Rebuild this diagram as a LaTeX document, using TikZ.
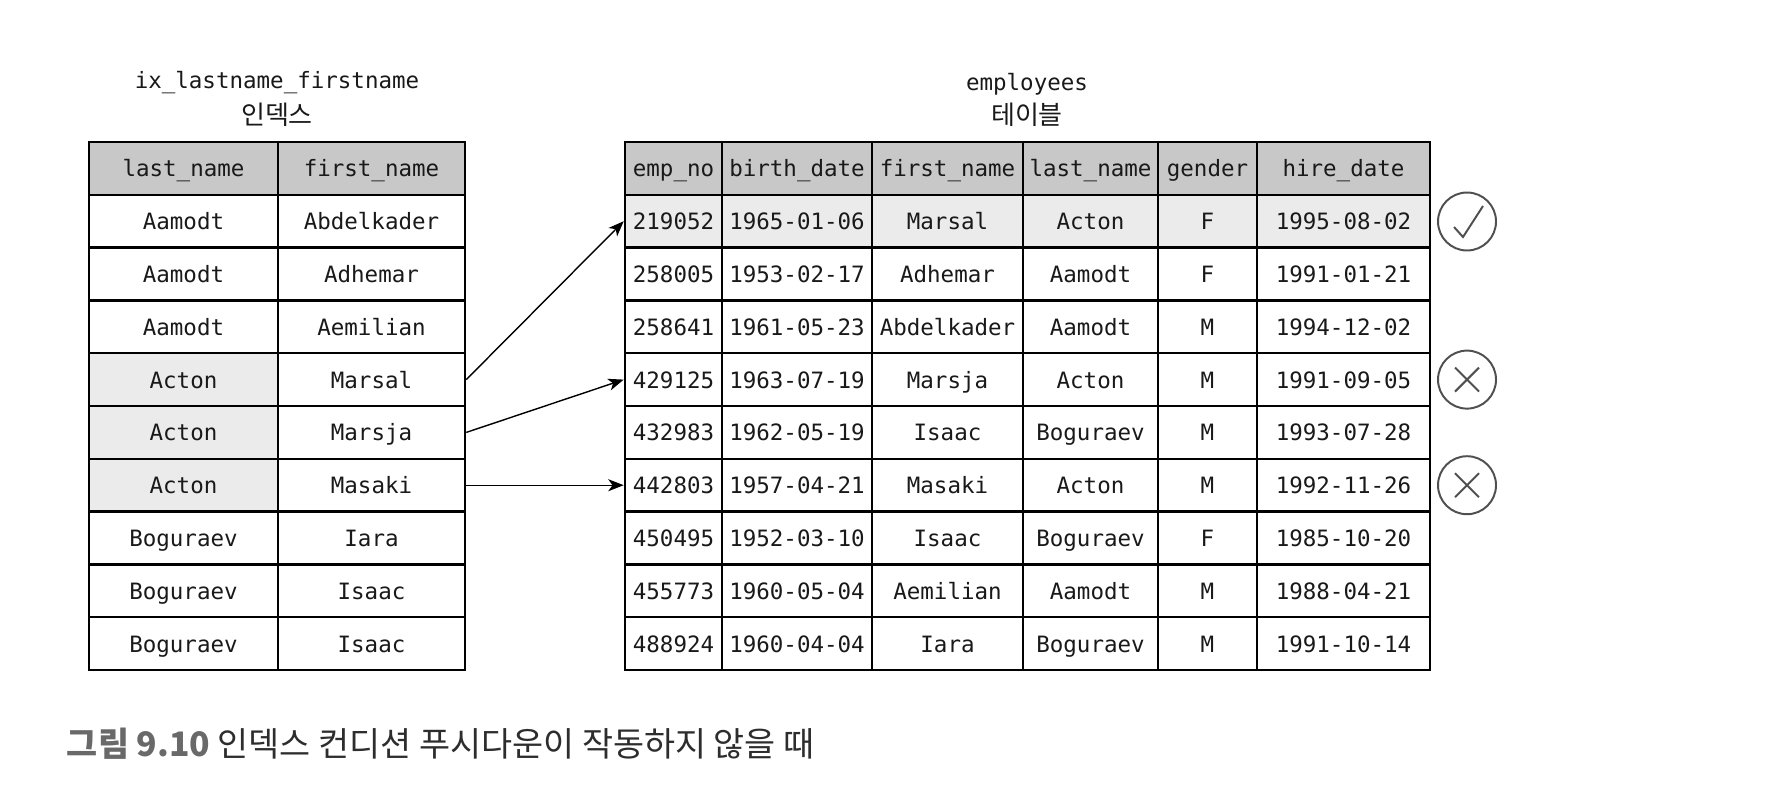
\documentclass[tikz,border=0pt]{standalone}
\usepackage{fontspec}
\setmonofont{DejaVu Sans Mono}
\newfontfamily\krfont{Noto Sans CJK KR}
\usetikzlibrary{arrows.meta,positioning}
\definecolor{hdgray}{RGB}{200,200,200}
\definecolor{hlgray}{RGB}{235,235,235}
\definecolor{capgray}{RGB}{105,105,105}
\definecolor{captext}{RGB}{45,45,45}
\definecolor{mkgray}{RGB}{80,80,80}
\newcommand{\cellfont}{\ttfamily\fontsize{16}{18}\selectfont}
\newcommand{\titlekr}{\krfont\fontsize{18.5}{21}\selectfont}

\begin{document}
\begin{tikzpicture}[
    x=0.025cm, y=-0.025cm,
    every node/.style={font=\cellfont, text=black!90},
    cell/.style={draw, line width=1.8pt, inner sep=0pt, minimum height=52.8*0.025cm,
        text height=1.25em, text depth=0.05em},
    arrow/.style={-{Stealth[length=11pt,width=8.5pt,inset=3pt]}, line width=1pt},
    okmark/.style={draw=mkgray, circle, line width=1.4pt, minimum size=58*0.025cm, inner sep=0pt},
]
\useasboundingbox (0,0) rectangle (1766,804);

% Titles
\node (ixname) at (277,83) {ix\_lastname\_firstname};
\node[font=\titlekr, below=-1pt of ixname] (ixkr) {인덱스};
\node (empname) at (1027,84) {employees};
\node[font=\titlekr, below=-1pt of empname] (empkr) {테이블};

% Index table: last_name | first_name
\foreach \r/\ln/\fn/\lsh/\fsh in {0/last\_name/first\_name/hdgray/hdgray,
    1/Aamodt/Abdelkader/white/white, 2/Aamodt/Adhemar/white/white, 3/Aamodt/Aemilian/white/white,
    4/Acton/Marsal/hlgray/white, 5/Acton/Marsja/hlgray/white, 6/Acton/Masaki/hlgray/white,
    7/Boguraev/Iara/white/white, 8/Boguraev/Isaac/white/white, 9/Boguraev/Isaac/white/white} {
    \node[cell, fill=\lsh, minimum width=189*0.025cm] (ixl\r) at (183.5,{142+52.8*(\r+0.5)}) {\ln};
    \node[cell, fill=\fsh, minimum width=187*0.025cm] (ixf\r) at (371.5,{142+52.8*(\r+0.5)}) {\fn};
}

% Table: emp_no | birth_date | first_name | last_name | gender | hire_date
\foreach \r/\eno/\bd/\fn/\ln/\gd/\hd/\sh in {
    0/emp\_no/birth\_date/first\_name/last\_name/gender/hire\_date/hdgray,
    1/219052/1965-01-06/Marsal/Acton/F/1995-08-02/hlgray,
    2/258005/1953-02-17/Adhemar/Aamodt/F/1991-01-21/white,
    3/258641/1961-05-23/Abdelkader/Aamodt/M/1994-12-02/white,
    4/429125/1963-07-19/Marsja/Acton/M/1991-09-05/white,
    5/432983/1962-05-19/Isaac/Boguraev/M/1993-07-28/white,
    6/442803/1957-04-21/Masaki/Acton/M/1992-11-26/white,
    7/450495/1952-03-10/Isaac/Boguraev/F/1985-10-20/white,
    8/455773/1960-05-04/Aemilian/Aamodt/M/1988-04-21/white,
    9/488924/1960-04-04/Iara/Boguraev/M/1991-10-14/white} {
    \node[cell, fill=\sh, minimum width=97*0.025cm] (eno\r) at (673.5,{142+52.8*(\r+0.5)}) {\eno};
    \node[cell, fill=\sh, minimum width=150*0.025cm] (ebd\r) at (797,{142+52.8*(\r+0.5)}) {\bd};
    \node[cell, fill=\sh, minimum width=151*0.025cm] (efn\r) at (947.5,{142+52.8*(\r+0.5)}) {\fn};
    \node[cell, fill=\sh, minimum width=135*0.025cm] (eln\r) at (1090.5,{142+52.8*(\r+0.5)}) {\ln};
    \node[cell, fill=\sh, minimum width=99*0.025cm] (egd\r) at (1207.5,{142+52.8*(\r+0.5)}) {\gd};
    \node[cell, fill=\sh, minimum width=173*0.025cm] (ehd\r) at (1343.5,{142+52.8*(\r+0.5)}) {\hd};
}

% Lookups from index to table rows
\draw[arrow] (ixf4.east) -- (eno1.west);
\draw[arrow] (ixf5.east) -- (eno4.west);
\draw[arrow] (ixf6.east) -- (eno6.west);

% Result marks
\node[okmark] (ok1) at (1467,221.5) {};
\draw[mkgray, line width=1.4pt] ([shift={(-13,5.5)}]ok1.center) -- ([shift={(-4,15.5)}]ok1.center) -- ([shift={(16,-15.5)}]ok1.center);
\foreach \n/\r in {ng4/4, ng6/6} {
    \node[okmark] (\n) at (1467,{142+52.8*(\r+0.5)}) {};
    \draw[mkgray, line width=1.4pt] ([shift={(-12,-12)}]\n.center) -- ([shift={(12,12)}]\n.center)
        ([shift={(-12,12)}]\n.center) -- ([shift={(12,-12)}]\n.center);
}

% Caption
\node[anchor=west, font=\krfont\fontsize{24}{28}\selectfont, text=captext] (caption) at (62,744)
    {\textcolor{capgray}{\bfseries 그림 9.10} 인덱스 컨디션 푸시다운이 작동하지 않을 때};
\end{tikzpicture}
\end{document}
